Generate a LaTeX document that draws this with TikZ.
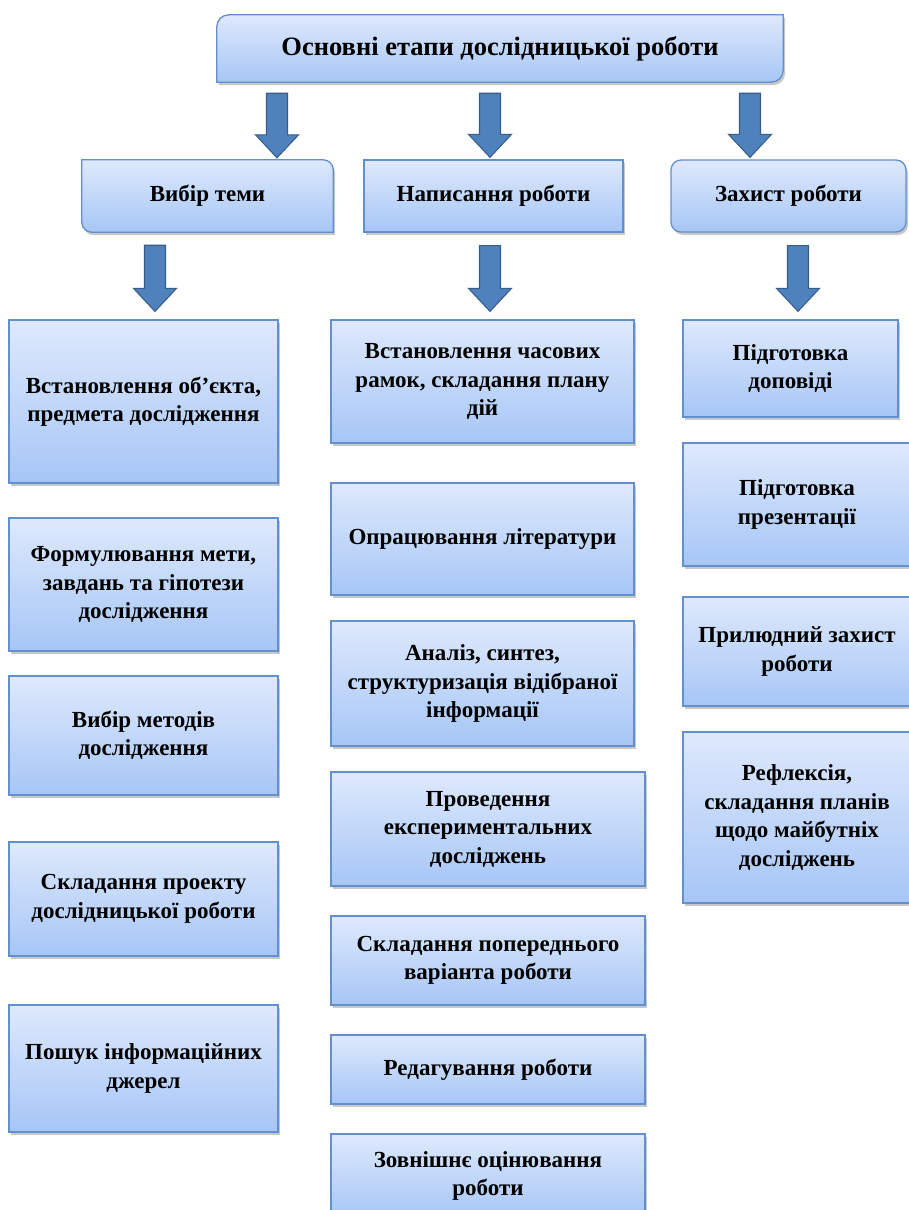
\documentclass[tikz,border=0pt]{standalone}
\usepackage{fontspec}
\setmainfont{Liberation Serif}
\usetikzlibrary{shadows,backgrounds,calc}
\definecolor{boxtop}{RGB}{222,233,252}
\definecolor{boxbot}{RGB}{166,198,246}
\definecolor{boxline}{RGB}{98,143,205}
\definecolor{arrfill}{RGB}{79,129,189}
\definecolor{arrline}{RGB}{56,93,138}
\newcommand\bodyfont{\bfseries\fontsize{23}{28.5}\selectfont}
\newcommand\titlefont{\bfseries\fontsize{26.5}{32}\selectfont}
\tikzset{
  boxpaint/.style={draw=boxline, line width=1.3pt, top color=boxtop, bottom color=boxbot,
    drop shadow={shadow xshift=2pt, shadow yshift=-3pt, opacity=0.3, fill=black!70}},
  box/.style={boxpaint, rectangle, inner sep=0pt, align=center, font=\bodyfont},
  ghost/.style={rectangle, inner sep=0pt, align=center, font=\bodyfont},
  blockarr/.style={fill=arrfill, draw=arrline, line width=1.1pt, line join=miter,
    to path={let \p1=(\tikztostart), \p2=(\tikztotarget) in
      (\x1-10.5pt,\y1) -- (\x1+10.5pt,\y1) -- (\x1+10.5pt,\y2+23pt) -- (\x1+21.5pt,\y2+23pt)
      -- (\x1,\y2) -- (\x1-21.5pt,\y2+23pt) -- (\x1-10.5pt,\y2+23pt) -- cycle}}
}
% [style] x1 y1 x2 y2 name text
\newcommand\bx[7][box]{\node[#1, minimum width={(#4-#2)*1pt}, minimum height={(#5-#3)*1pt}] (#6) at ({(#2+#4)/2},{(#3+#5)/2+2}) {#7};}
% from to x gapstart gapend
\newcommand\barr[5]{\path[blockarr] ($(#1.south -| #3,0)+(0,#4)$) to ($(#2.north -| #3,0)+(0,-#5)$);}
\begin{document}
\begin{tikzpicture}[x=1pt,y=-1pt]
\useasboundingbox (0,0) rectangle (908,1210);
\begin{pgfonlayer}{background}
\fill[white] (0,0) rectangle (908,1210);
\end{pgfonlayer}

% top level
\bx[ghost, font=\titlefont]{217}{13}{783}{80}{top}{Основні етапи дослідницької роботи}
% second level
\bx[ghost]{82}{158}{333}{230}{vib}{Вибір теми}
\bx{364}{158}{623}{230}{nap}{Написання роботи}
\bx[box, rounded corners=10pt]{671}{158}{906}{230}{zah}{Захист роботи}

\begin{pgfonlayer}{background}
\path[boxpaint] (top.north) [sharp corners] -- (top.north east) -- (top.east) [rounded corners=12pt]
  -- (top.south east) -- (top.south) [sharp corners] -- (top.south west) -- (top.west)
  [rounded corners=12pt] -- (top.north west) -- cycle;
\path[boxpaint] (vib.north) [rounded corners=10pt] -- (vib.north east) -- (vib.east) [sharp corners]
  -- (vib.south east) -- (vib.south) [rounded corners=10pt] -- (vib.south west) -- (vib.west)
  [sharp corners] -- (vib.north west) -- cycle;
\end{pgfonlayer}

% left column
\bx{9}{318}{278}{481}{l1}{Встановлення об’єкта,\\предмета дослідження}
\bx{9}{516}{278}{649}{l2}{Формулювання мети,\\завдань та гіпотези\\дослідження}
\bx{9}{674}{278}{793}{l3}{Вибір методів\\дослідження}
\bx{9}{840}{278}{954}{l4}{Складання проекту\\дослідницької роботи}
\bx{9}{1003}{278}{1130}{l5}{Пошук інформаційних\\джерел}

% middle column
\bx{331}{318}{634}{441}{m1}{Встановлення часових\\рамок, складання плану\\дій}
\bx{331}{481}{634}{593}{m2}{Опрацювання літератури}
\bx{331}{619}{634}{744}{m3}{Аналіз, синтез,\\структуризація відібраної\\інформації}
\bx{331}{770}{645}{884}{m4}{Проведення\\експериментальних\\досліджень}
\bx{331}{914}{645}{1003}{m5}{Складання попереднього\\варіанта роботи}
\bx{331}{1033}{645}{1102}{m6}{Редагування роботи}
\bx{331}{1132}{645}{1216}{m7}{Зовнішнє оцінювання\\роботи}

% right column
\bx{683}{318}{898}{415}{r1}{Підготовка\\доповіді}
\bx{683}{441}{911}{564}{r2}{Підготовка\\презентації}
\bx{683}{595}{911}{704}{r3}{Прилюдний захист\\роботи}
\bx{683}{730}{911}{901}{r4}{Рефлексія,\\складання планів\\щодо майбутніх\\досліджень}

% arrows
\barr{top}{vib}{277}{11}{2}
\barr{top}{nap}{490}{11}{2}
\barr{top}{zah}{750}{11}{2}
\barr{vib}{l1}{155}{13}{8}
\barr{nap}{m1}{490}{13}{8}
\barr{zah}{r1}{798}{13}{8}
\end{tikzpicture}
\end{document}
